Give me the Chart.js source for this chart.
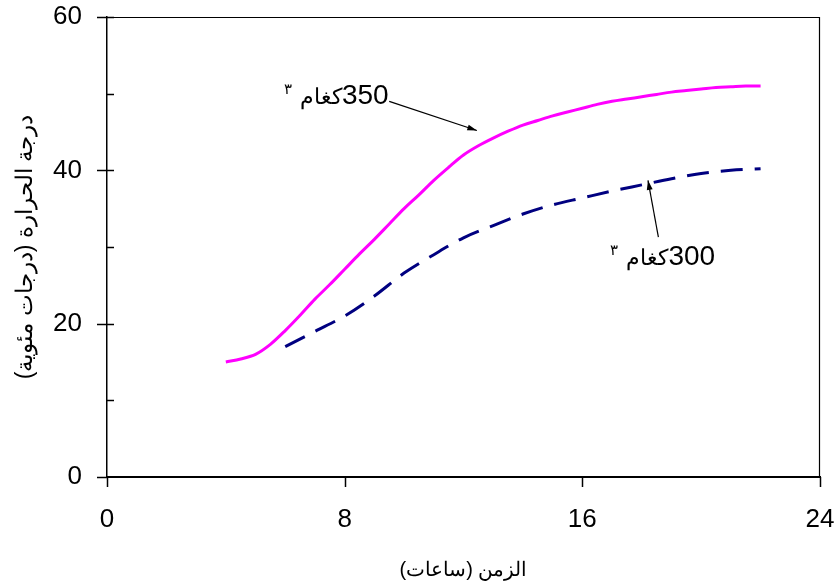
<!DOCTYPE html>
<html>
<head>
<meta charset="utf-8">
<script src="https://cdn.jsdelivr.net/npm/chart.js@4.4.1/dist/chart.umd.min.js"></script>
<style>
  html, body { margin: 0; padding: 0; background: #fff; }
  #wrap { width: 834px; height: 586px; }
</style>
</head>
<body>
<div id="wrap"><canvas id="tempChart" dir="rtl" width="834" height="586"></canvas></div>
<script>
// البيانات
const hours350 = [4, 4.5, 5, 5.5, 6, 6.5, 7, 7.5, 8, 8.5, 9, 9.5, 10, 10.5, 11, 11.5, 12, 12.5, 13,
                  13.5, 14, 14.5, 15, 15.5, 16, 16.5, 17, 17.5, 18, 18.5, 19, 19.5, 20, 20.5, 21, 21.5, 22];
const temp350 = [15.0, 15.4, 16.0, 17.3, 19.1, 21.1, 23.2, 25.1, 27.1, 29.1, 31.0, 33.0, 35.0, 36.8, 38.7,
                 40.4, 42.0, 43.2, 44.2, 45.1, 45.9, 46.5, 47.1, 47.6, 48.1, 48.6, 49.0, 49.3, 49.6, 49.9,
                 50.2, 50.4, 50.6, 50.8, 50.9, 51.0, 51.0];

const hours300 = [6, 7, 8, 9, 10, 11, 12, 13, 14, 15, 16, 17, 18, 19, 20, 21, 22];
const temp300 = [17.0, 19.0, 21.0, 23.6, 26.6, 29.0, 31.2, 32.8, 34.3, 35.5, 36.4, 37.3, 38.1, 38.9, 39.6, 40.0, 40.2];

const xTicks = [0, 8, 16, 24];
const yMajor = [0, 20, 40, 60];
const yMinor = [10, 30, 50];

const seriesValues = ['350', '300'];
const unitText = 'كغام';
const xTitle = 'الزمن (ساعات)';
const yTitle = 'درجة الحرارة (درجات مئوية)';

// مواضع التعليقات (بوحدات المحاور): الحافة اليمنى للأرقام وخط القاعدة
const notes = [
    { value: seriesValues[0], tx: 9.48, ty: 48.7, from: [9.5, 49.0], to: [12.45, 45.2] },
    { value: seriesValues[1], tx: 20.47, ty: 27.6, from: [18.56, 31.3], to: [18.21, 38.7] }
];

const FONT = 'Arial, "Liberation Sans", sans-serif';

// رسم العلامات والإطار والتعليقات
const decorPlugin = {
    id: 'decor',
    afterDraw(chart) {
        const ctx = chart.ctx;
        const xs = chart.scales.x, ys = chart.scales.y;
        const a = chart.chartArea;
        ctx.save();
        ctx.strokeStyle = '#000';

        // الإطار العلوي والأيمن
        ctx.lineWidth = 1.2;
        ctx.beginPath();
        ctx.moveTo(a.left, a.top + 0.5);
        ctx.lineTo(a.right - 0.5, a.top + 0.5);
        ctx.lineTo(a.right - 0.5, a.bottom);
        ctx.stroke();

        // علامات المحور الصادي
        ctx.lineWidth = 1.5;
        yMajor.forEach(v => {
            const y = Math.round(ys.getPixelForValue(v)) + 0.5;
            ctx.beginPath();
            ctx.moveTo(a.left - 10, y);
            ctx.lineTo(v === 0 ? a.left : a.left + 7, y);
            ctx.stroke();
        });
        yMinor.forEach(v => {
            const y = Math.round(ys.getPixelForValue(v)) + 0.5;
            ctx.beginPath();
            ctx.moveTo(a.left, y);
            ctx.lineTo(a.left + 7, y);
            ctx.stroke();
        });
        // علامات المحور السيني
        xTicks.forEach(v => {
            const x = Math.round(xs.getPixelForValue(v)) + 0.5;
            ctx.beginPath();
            ctx.moveTo(x, a.bottom);
            ctx.lineTo(x, a.bottom + 10);
            ctx.stroke();
        });

        // التعليقات مع الأسهم
        notes.forEach(n => {
            const x1 = xs.getPixelForValue(n.from[0]), y1 = ys.getPixelForValue(n.from[1]);
            const x2 = xs.getPixelForValue(n.to[0]), y2 = ys.getPixelForValue(n.to[1]);
            ctx.lineWidth = 1.2;
            ctx.beginPath();
            ctx.moveTo(x1, y1);
            ctx.lineTo(x2, y2);
            ctx.stroke();
            const ang = Math.atan2(y2 - y1, x2 - x1);
            ctx.fillStyle = '#000';
            ctx.beginPath();
            ctx.moveTo(x2, y2);
            ctx.lineTo(x2 - 10 * Math.cos(ang - 0.3), y2 - 10 * Math.sin(ang - 0.3));
            ctx.lineTo(x2 - 10 * Math.cos(ang + 0.3), y2 - 10 * Math.sin(ang + 0.3));
            ctx.closePath();
            ctx.fill();

            const tx = xs.getPixelForValue(n.tx), ty = ys.getPixelForValue(n.ty);
            ctx.textAlign = 'right';
            ctx.textBaseline = 'alphabetic';
            ctx.direction = 'ltr';
            ctx.font = '28px ' + FONT;
            ctx.fillText(n.value, tx, ty);
            let x = tx - ctx.measureText(n.value).width;
            ctx.direction = 'rtl';
            ctx.font = '22px ' + FONT;
            ctx.fillText(unitText, x, ty);
            x -= ctx.measureText(unitText).width + 8;
            ctx.font = '15px ' + FONT;
            ctx.fillText('٣', x, ty - 10);
        });
        ctx.restore();
    }
};

const ctx = document.getElementById('tempChart').getContext('2d');
new Chart(ctx, {
    type: 'line',
    data: {
        datasets: [
            {
                label: seriesValues[0],
                data: hours350.map((h, i) => ({ x: h, y: temp350[i] })),
                borderColor: '#FF00FF',
                borderWidth: 3,
                pointRadius: 0,
                cubicInterpolationMode: 'monotone',
                fill: false
            },
            {
                label: seriesValues[1],
                data: hours300.map((h, i) => ({ x: h, y: temp300[i] })),
                borderColor: '#000080',
                borderWidth: 3,
                borderDash: [22, 12],
                pointRadius: 0,
                cubicInterpolationMode: 'monotone',
                fill: false
            }
        ]
    },
    options: {
        responsive: false,
        animation: false,
        layout: { padding: { top: 17, right: 14, left: 8, bottom: 0 } },
        plugins: {
            legend: { display: false },
            tooltip: { enabled: false }
        },
        scales: {
            x: {
                type: 'linear',
                min: 0,
                max: 24,
                afterBuildTicks: s => { s.ticks = xTicks.map(v => ({ value: v })); },
                afterFit: s => { s.height = 109; s.paddingLeft = 0; s.paddingRight = 0; },
                grid: { display: false, drawTicks: false },
                border: { display: true, color: '#000', width: 2 },
                ticks: { color: '#000', font: { size: 26, family: FONT }, padding: 27, maxRotation: 0 },
                title: { display: true, text: xTitle, color: '#000', font: { size: 20, family: FONT } }
            },
            y: {
                type: 'linear',
                min: 0,
                max: 60,
                afterBuildTicks: s => { s.ticks = yMajor.map(v => ({ value: v })); },
                afterFit: s => { s.width = 99; s.paddingTop = 0; s.paddingBottom = 0; },
                grid: { display: false, drawTicks: false },
                border: { display: true, color: '#000', width: 1.5 },
                ticks: { color: '#000', font: { size: 26, family: FONT }, padding: 25 },
                title: { display: true, text: yTitle, color: '#000', font: { size: 23, family: FONT } }
            }
        }
    },
    plugins: [decorPlugin]
});
</script>
</body>
</html>
